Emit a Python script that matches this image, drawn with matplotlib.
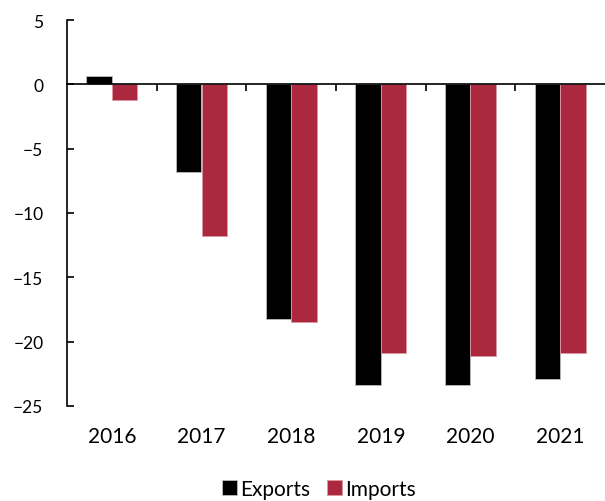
import numpy as np
import matplotlib.pyplot as plt

plt.rcParams['font.family'] = ['Lato', 'DejaVu Sans']

years = ['2016', '2017', '2018', '2019', '2020', '2021']
exports = [0.65, -6.8, -18.2, -23.4, -23.4, -22.9]
imports = [-1.25, -11.8, -18.5, -20.9, -21.1, -20.9]

red = '#AC283F'
x = np.arange(len(years))
w = 0.285

fig = plt.figure(figsize=(6.05, 5.02), dpi=100)
ax = fig.add_axes([67 / 605, 1 - 407 / 502, 538 / 605, 386 / 502])

ax.bar(x - w / 2, exports, w, color='black', edgecolor='#bbbbbb', linewidth=0.6, label='Exports')
ax.bar(x + w / 2, imports, w, color=red, edgecolor='#d99aa5', linewidth=0.6, label='Imports')

ax.set_xlim(-0.5, len(years) - 0.5)
ax.set_ylim(-25, 5)
ax.set_yticks(np.arange(-25, 6, 5))
ax.tick_params(axis='y', direction='in', length=5, width=1.2, labelsize=12.5, pad=17)

# x axis sits at zero, separator ticks between groups
ax.spines['bottom'].set_position(('data', 0))
ax.set_xticks(x[:-1] + 0.5)
ax.set_xticklabels([])
ax.tick_params(axis='x', direction='out', length=5, width=1.2)
for s in ['top', 'right']:
    ax.spines[s].set_visible(False)
ax.spines['left'].set_linewidth(1.2)
ax.spines['bottom'].set_linewidth(1.2)

# year labels below the plot
for xp, yr in zip(x, years):
    ax.text(xp, -30 / 386, yr, transform=ax.get_xaxis_transform(),
            ha='center', va='center', fontsize=15)

ax.legend(loc='center', bbox_to_anchor=(319 / 605, 1 - 490 / 502),
          bbox_transform=fig.transFigure, ncol=2, frameon=False, fontsize=15,
          handlelength=0.72, handleheight=0.72, handletextpad=0.15,
          columnspacing=0.8, borderpad=0)

fig.savefig('out.png', dpi=100)
